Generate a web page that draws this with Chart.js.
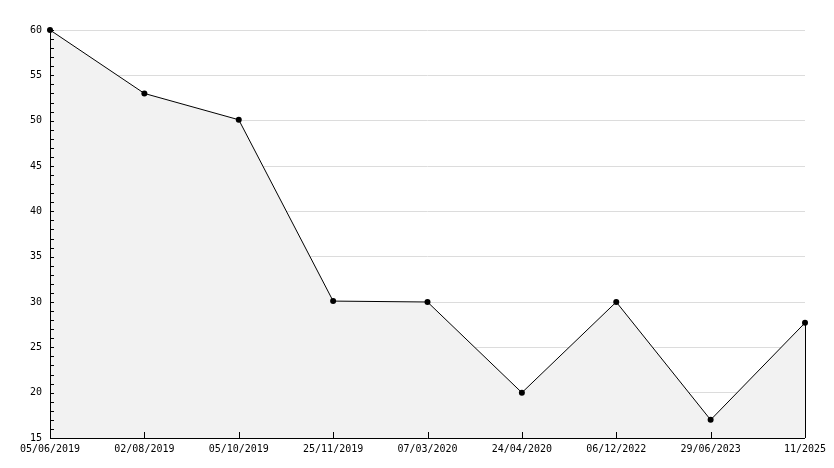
<!DOCTYPE html>
<html>
<head>
<meta charset="utf-8">
<script src="https://cdn.jsdelivr.net/npm/chart.js@4"></script>
<style>
  html, body { margin: 0; padding: 0; background: #fff; }
  canvas { display: block; }
</style>
</head>
<body>
<canvas id="chart" width="834" height="468"></canvas>
<script>
// Datos del gráfico
const fechas = ['05/06/2019', '02/08/2019', '05/10/2019', '25/11/2019', '07/03/2020',
                '24/04/2020', '06/12/2022', '29/06/2023', '11/2025'];
const valores = [60, 53, 50.1, 30.1, 30, 20, 30, 17, 27.7];
const yMin = 15;
const yMax = 60;
const yPaso = 5;
const yPasoMenor = 1;

// Ejes, marcas y borde derecho dibujados encima del relleno
const axisPlugin = {
    id: 'axisPlugin',
    afterDatasetsDraw(chart) {
        const ctx = chart.ctx;
        const area = chart.chartArea;
        const x = chart.scales.x;
        const y = chart.scales.y;
        ctx.save();
        ctx.strokeStyle = '#000';
        ctx.lineWidth = 1;
        ctx.beginPath();
        // eje izquierdo
        ctx.moveTo(area.left + 0.5, area.top);
        ctx.lineTo(area.left + 0.5, area.bottom + 0.5);
        // eje inferior
        ctx.lineTo(area.right, area.bottom + 0.5);
        // marcas menores del eje Y
        for (let v = yMin; v <= yMax; v += yPasoMenor) {
            const py = Math.round(y.getPixelForValue(v)) + 0.5;
            ctx.moveTo(area.left, py);
            ctx.lineTo(area.left + 4, py);
        }
        // marcas del eje X
        fechas.forEach((f, i) => {
            const px = Math.round(x.getPixelForValue(i)) + 0.5;
            ctx.moveTo(px, area.bottom);
            ctx.lineTo(px, area.bottom - 6);
        });
        // borde derecho del área
        const last = valores.length - 1;
        const rx = Math.round(x.getPixelForValue(last)) + 0.5;
        ctx.moveTo(rx, y.getPixelForValue(valores[last]));
        ctx.lineTo(rx, area.bottom);
        ctx.stroke();
        ctx.restore();
    }
};

const ctx = document.getElementById('chart').getContext('2d');
new Chart(ctx, {
    type: 'line',
    data: {
        labels: fechas,
        datasets: [{
            data: valores,
            borderColor: '#000',
            borderWidth: 1,
            backgroundColor: '#f2f2f2',
            fill: 'start',
            tension: 0,
            pointRadius: 3,
            pointBackgroundColor: '#000',
            pointBorderColor: '#000',
            pointBorderWidth: 0,
            clip: false
        }]
    },
    options: {
        responsive: false,
        animation: false,
        events: [],
        layout: { padding: { top: 30, right: 29, bottom: 0, left: 0 } },
        plugins: {
            legend: { display: false },
            tooltip: { enabled: false }
        },
        scales: {
            x: {
                type: 'category',
                offset: false,
                grid: { display: false, drawTicks: false },
                border: { display: false },
                ticks: {
                    color: '#000',
                    padding: 5,
                    maxRotation: 0,
                    autoSkip: false,
                    font: { family: 'DejaVu Sans Mono', size: 10 }
                },
                afterFit(scale) { scale.height = 30; }
            },
            y: {
                min: yMin,
                max: yMax,
                grid: { color: '#dcdcdc', drawTicks: false },
                border: { display: false },
                ticks: {
                    stepSize: yPaso,
                    color: '#000',
                    padding: 8,
                    font: { family: 'DejaVu Sans Mono', size: 10 }
                },
                afterFit(scale) { scale.width = 50; }
            }
        }
    },
    plugins: [axisPlugin]
});
</script>
</body>
</html>
